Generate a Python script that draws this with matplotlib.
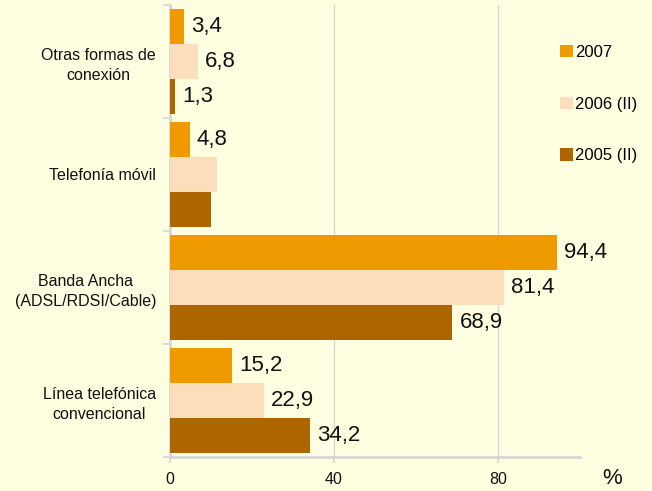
import matplotlib
matplotlib.use('Agg')
import matplotlib.pyplot as plt
import numpy as np
from matplotlib.patches import Patch

plt.rcParams['font.family'] = ['Liberation Sans', 'DejaVu Sans']

categories = ['Otras formas de\nconexión', 'Telefonía móvil',
              'Banda Ancha\n(ADSL/RDSI/Cable)', 'Línea telefónica\nconvencional']
series = ['2007', '2006 (II)', '2005 (II)']
v2007 = [3.4, 4.8, 94.4, 15.2]
v2006 = [6.8, 11.4, 81.4, 22.9]
v2005 = [1.3, 9.9, 68.9, 34.2]
# Telefonía móvil 2006/2005 carry no label in the original
show2007 = [True, True, True, True]
show2006 = [True, False, True, True]
show2005 = [True, False, True, True]

COLORS = ['#EE9A00', '#FDDEBB', '#AD6500']
BG = '#FFFEE0'
GRID = '#D6D6D6'

fig = plt.figure(figsize=(6.52, 4.91), dpi=100, facecolor=BG)
ax = fig.add_axes([170/652, 34/491, 410/652, 452/491])
ax.set_facecolor(BG)

y = np.arange(len(categories))
h = 0.307
for vals, show, off, c in [(v2007, show2007, -h, COLORS[0]),
                            (v2006, show2006, 0, COLORS[1]),
                            (v2005, show2005, h, COLORS[2])]:
    ax.barh(y + off, vals, height=h, color=c, lw=0, zorder=3)
    for yi, v, s in zip(y, vals, show):
        if s:
            ax.annotate(f'{v:.1f}'.replace('.', ','), (v, yi + off),
                        xytext=(5, 0), textcoords='offset points',
                        ha='left', va='center', fontsize=16, color='#111111', zorder=4)

ax.set_xlim(0, 100)
ax.set_ylim(3.5, -0.5)
ax.set_xticks([0, 40, 80])
ax.set_xticklabels(['0', '40', '80'], fontsize=11.5, color='#111111')
ax.tick_params(axis='x', length=4, width=1.2, color=GRID, pad=7)
ax.set_yticks(y)
ax.set_yticklabels(categories, fontsize=11.5, color='#111111', linespacing=1.45,
                   multialignment='center')
ax.tick_params(axis='y', which='major', length=0, pad=10)
ax.set_yticks([-0.5, 0.5, 1.5, 2.5, 3.5], minor=True)
ax.tick_params(axis='y', which='minor', length=5, width=1.2, color=GRID)
ax.grid(axis='x', color=GRID, lw=1, zorder=0)
for s in ['top', 'right']:
    ax.spines[s].set_visible(False)
for s in ['left', 'bottom']:
    ax.spines[s].set_color(GRID)
    ax.spines[s].set_linewidth(2)

fig.text(612/652, 1 - 478/491, '%', fontsize=16, ha='center', va='center', color='#111111')

handles = [Patch(color=c, lw=0) for c in COLORS]
fig.legend(handles, series, loc='upper left', bbox_to_anchor=(560/652, 1 - 45/491),
           frameon=False, fontsize=12, handlelength=0.75, handleheight=0.75,
           handletextpad=0.15, labelspacing=2.2, borderaxespad=0, borderpad=0)

fig.savefig('out.png', dpi=100, facecolor=BG)
